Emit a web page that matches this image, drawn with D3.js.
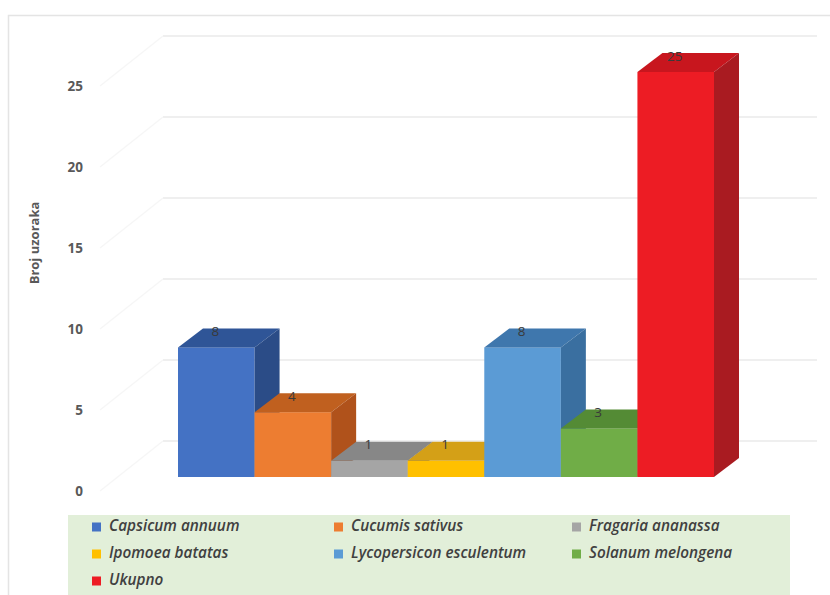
<!DOCTYPE html>
<html>
<head>
<meta charset="utf-8">
<script src="https://cdn.jsdelivr.net/npm/d3@7"></script>
<style>
  html, body { margin: 0; padding: 0; background: #fff; }
  svg { display: block; }
</style>
</head>
<body>
<svg id="chart" width="830" height="595"></svg>
<script>
const series = ["Capsicum annuum", "Cucumis sativus", "Fragaria ananassa", "Ipomoea batatas", "Lycopersicon esculentum", "Solanum melongena", "Ukupno"];
const values = [8, 4, 1, 1, 8, 3, 25];
const frontColors = ["#4472c4", "#ed7d31", "#a5a5a5", "#ffc000", "#5b9bd5", "#70ad47", "#ed1c24"];
const topColors   = ["#2f5597", "#c0601f", "#878787", "#d4a017", "#3f77ad", "#548b35", "#c8161e"];
const sideColors  = ["#2b4c87", "#b0521b", "#7a7a7a", "#c09010", "#3a6fa0", "#4a7d2e", "#a91b21"];
const yTicks = [0, 5, 10, 15, 20, 25];
const yTitle = "Broj uzoraka";

const svg = d3.select("#chart");

// chart area border
svg.append("rect").attr("x", 8.5).attr("y", 15.5).attr("width", 840).attr("height", 600)
  .attr("fill", "#fff").attr("stroke", "#e4e4e4").attr("stroke-width", 1.5);

// scales at bar plane
const x = d3.scaleBand().domain(series).range([178, 714]).padding(0);
const y = d3.scaleLinear().domain([0, 25]).range([477, 72]);
const bw = x.bandwidth();

// depth offsets
const barDX = 25, barDY = 19;
const frontOff = { dx: -17.6, dy: 14 };
const backOff = { dx: 45.4, dy: -36 };
const wallLeft = 163, wallRight = 817, sideLeft = 100;

// back wall gridlines
svg.append("g").selectAll("line.grid").data(yTicks).join("line")
  .attr("x1", wallLeft).attr("x2", wallRight)
  .attr("y1", d => y(d) + backOff.dy).attr("y2", d => y(d) + backOff.dy)
  .attr("stroke", "#e0e0e0").attr("stroke-width", 1.2);

// side wall gridlines
svg.append("g").selectAll("line.side").data(yTicks).join("line")
  .attr("x1", sideLeft).attr("x2", wallLeft)
  .attr("y1", d => y(d) + frontOff.dy).attr("y2", d => y(d) + backOff.dy)
  .attr("stroke", "#f6f6f6").attr("stroke-width", 1.2);

// y axis (front plane)
const yFront = d3.scaleLinear().domain([0, 25]).range([477 + frontOff.dy, 72 + frontOff.dy]);
const axis = svg.append("g").attr("transform", "translate(83,0)")
  .call(d3.axisLeft(yFront).tickValues(yTicks).tickSize(0).tickPadding(0));
axis.select(".domain").remove();
axis.selectAll("text")
  .attr("font-family", "'Open Sans', sans-serif").attr("font-weight", 700)
  .attr("font-size", 13.5).attr("fill", "#595959");

// axis title
svg.append("text").attr("transform", "translate(39,243) rotate(-90)")
  .attr("text-anchor", "middle").attr("font-family", "'Open Sans', sans-serif")
  .attr("font-weight", 700).attr("font-size", 13).attr("fill", "#595959")
  .text(yTitle);

// bars
const data = series.map((s, i) => ({ s, v: values[i], i }));
const bars = svg.append("g").selectAll("g.bar").data(data).join("g");
bars.append("rect")
  .attr("x", d => x(d.s)).attr("y", d => y(d.v))
  .attr("width", bw).attr("height", d => y(0) - y(d.v))
  .attr("fill", d => frontColors[d.i]);
bars.append("polygon")
  .attr("points", d => {
    const x0 = x(d.s), x1 = x0 + bw, yt = y(d.v);
    return [[x0, yt], [x1, yt], [x1 + barDX, yt - barDY], [x0 + barDX, yt - barDY]].map(p => p.join(",")).join(" ");
  })
  .attr("fill", d => topColors[d.i]);
bars.append("polygon")
  .attr("points", d => {
    const x1 = x(d.s) + bw, yt = y(d.v), yb = y(0);
    return [[x1, yt], [x1 + barDX, yt - barDY], [x1 + barDX, yb - barDY], [x1, yb]].map(p => p.join(",")).join(" ");
  })
  .attr("fill", d => sideColors[d.i]);

// data labels
svg.append("g").selectAll("text").data(data).join("text")
  .attr("x", d => x(d.s) + bw / 2 - 1).attr("y", d => y(d.v) - 15)
  .attr("text-anchor", "middle").attr("dominant-baseline", "middle")
  .attr("font-family", "'Open Sans', sans-serif").attr("font-size", 13.5)
  .attr("fill", "#3a3a3a").text(d => d.v);

// legend
svg.append("rect").attr("x", 68).attr("y", 515).attr("width", 722).attr("height", 82)
  .attr("fill", "#e2efd9");
const colX = [92, 334, 572];
const rowY = [527, 554, 581];
const leg = svg.append("g").selectAll("g").data(data).join("g")
  .attr("transform", d => `translate(${colX[d.i % 3]},${rowY[Math.floor(d.i / 3)]})`);
leg.append("rect").attr("x", 0).attr("y", -4.5).attr("width", 9).attr("height", 9)
  .attr("fill", d => frontColors[d.i]);
leg.append("text").attr("x", 17).attr("y", 0).attr("dominant-baseline", "middle")
  .attr("font-family", "'Open Sans', sans-serif").attr("font-style", "italic")
  .attr("font-weight", 600).attr("font-size", 15.3).attr("fill", "#404040")
  .text(d => d.s);
</script>
</body>
</html>
